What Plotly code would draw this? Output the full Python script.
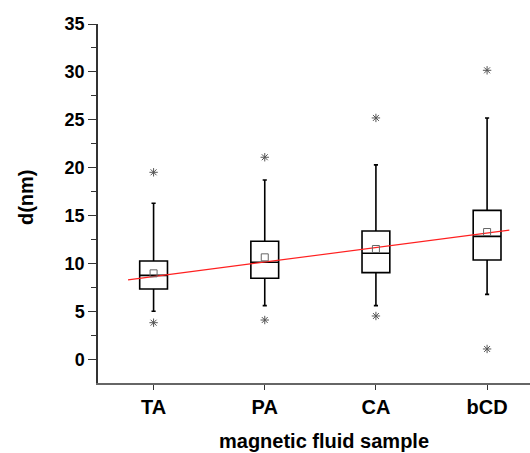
import plotly.graph_objects as go

categories = ["TA", "PA", "CA", "bCD"]
positions = [1, 2, 3, 4]
q1 = [7.35, 8.47, 9.06, 10.38]
median = [8.78, 10.14, 11.08, 12.85]
q3 = [10.27, 12.33, 13.4, 15.56]
whisker_low = [5.03, 5.62, 5.62, 6.8]
whisker_high = [16.3, 18.73, 20.3, 25.19]
means = [8.99, 10.66, 11.53, 13.3]
outlier_low = [3.84, 4.12, 4.54, 1.1]
outlier_high = [19.53, 21.1, 25.2, 30.17]
fit_x = [0.77, 4.2]
fit_y = [8.3, 13.5]
y_ticks = [0, 5, 10, 15, 20, 25, 30, 35]

FONT = "Liberation Sans, Arial, sans-serif"

fig = go.Figure()
fig.add_trace(go.Box(
    x=positions, q1=q1, median=median, q3=q3,
    lowerfence=whisker_low, upperfence=whisker_high,
    width=0.25, whiskerwidth=0.15, boxpoints=False,
    fillcolor="white", line=dict(color="black", width=1.6),
    showlegend=False, hoverinfo="skip"))
fig.add_trace(go.Scatter(
    x=fit_x, y=fit_y, mode="lines",
    line=dict(color="#ff2020", width=1.2), showlegend=False))
fig.add_trace(go.Scatter(
    x=positions, y=means, mode="markers",
    marker=dict(symbol="square-open", size=7, color="#666666", line=dict(width=1)),
    showlegend=False))
fig.add_trace(go.Scatter(
    x=positions + positions, y=outlier_low + outlier_high, mode="markers",
    marker=dict(symbol="asterisk-open", size=7, color="#555555", line=dict(width=1, color="#555555")),
    showlegend=False))

fig.update_layout(
    width=530, height=453,
    margin=dict(l=97.5, r=0, t=24, b=70),
    paper_bgcolor="white", plot_bgcolor="white",
    font=dict(family=FONT, color="black"),
    xaxis=dict(
        range=[0.5, 4.386], tickvals=positions, ticktext=categories,
        tickfont=dict(size=20, weight="bold", family=FONT),
        ticks="outside", ticklen=5, tickwidth=1.2, tickcolor="#333333",
        showline=True, linecolor="#666666", linewidth=2,
        showgrid=False, zeroline=False),
    yaxis=dict(
        range=[-2.45, 35], tickvals=y_ticks,
        tickfont=dict(size=18, weight="bold", family=FONT),
        ticks="outside", ticklen=8, tickwidth=1.2, tickcolor="#333333",
        minor=dict(dtick=2.5, tick0=0, ticks="outside", ticklen=5, tickwidth=1, tickcolor="#333333"),
        showline=True, linecolor="#333333", linewidth=1.5,
        showgrid=False, zeroline=False),
    annotations=[
        dict(text="magnetic fluid sample", xref="paper", yref="paper",
             x=0.524, y=0, yshift=-58, xanchor="center", yanchor="middle",
             showarrow=False, font=dict(size=20, weight="bold", family=FONT)),
        dict(text="d(nm)", xref="paper", yref="paper",
             x=0, xshift=-72, y=0.518, textangle=-90, xanchor="center", yanchor="middle",
             showarrow=False, font=dict(size=20, weight="bold", family=FONT)),
    ],
)

fig.write_html("out.html", config={"displayModeBar": False},
               post_script="document.body.style.margin='0';document.body.style.overflow='hidden';")
